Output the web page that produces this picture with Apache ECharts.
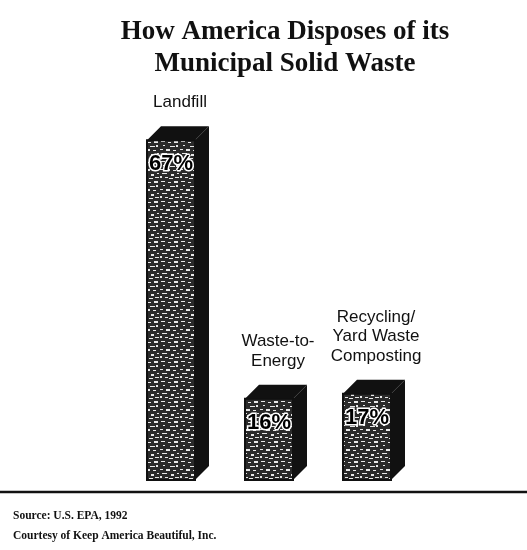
<!DOCTYPE html>
<html>
<head>
<meta charset="utf-8">
<script src="https://cdn.jsdelivr.net/npm/echarts@6/dist/echarts.min.js"></script>
<style>
html,body{margin:0;padding:0;background:#fff;}
#chart{width:527px;height:550px;}
</style>
</head>
<body>
<div id="chart"></div>
<script>
const titleLines = ['How America Disposes of its', 'Municipal Solid Waste'];
const categories = ['Landfill', 'Waste-to-\nEnergy', 'Recycling/\nYard Waste\nComposting'];
const values = [67, 16, 17];
const percentLabels = ['67%', '16%', '17%'];
const sourceLines = ['Source: U.S. EPA, 1992', 'Courtesy of Keep America Beautiful, Inc.'];

// stipple texture for the bar fronts (styling only)
function makePattern() {
  const c = document.createElement('canvas');
  c.width = 20; c.height = 20;
  const g = c.getContext('2d');
  g.fillStyle = '#2a2a2a';
  g.fillRect(0, 0, 20, 20);
  g.fillStyle = '#e8e8e8';
  const spots = [[1,1,4,1],[8,2,3,1],[14,1,4,2],[3,5,2,1],[10,6,5,1],[16,5,2,2],
                 [0,9,3,1],[6,9,4,2],[13,10,3,1],[2,13,5,1],[11,14,3,2],[17,13,2,1],
                 [5,17,3,1],[9,18,4,1],[15,17,4,1],[0,16,2,2]];
  spots.forEach(s => g.fillRect(s[0], s[1], s[2], s[3]));
  return c;
}
const pattern = makePattern();

const chart = echarts.init(document.getElementById('chart'));
chart.setOption({
  backgroundColor: '#fff',
  animation: false,
  title: {
    text: titleLines.join('\n'),
    left: 280, top: 11, textAlign: 'center',
    textStyle: {
      fontFamily: 'Liberation Serif', fontWeight: 'bold', fontSize: 27,
      lineHeight: 32, color: '#111'
    }
  },
  grid: { left: 122, right: 111, top: 125, bottom: 70 },
  xAxis: {
    type: 'category', data: categories, show: false
  },
  yAxis: { type: 'value', min: 0, max: 70, show: false },
  graphic: [
    { type: 'line', shape: { x1: 0, y1: 492, x2: 527, y2: 492 },
      style: { stroke: '#111', lineWidth: 2.5 } },
    { type: 'text', left: 13, top: 506,
      style: { text: sourceLines.join('\n'), fontFamily: 'Liberation Serif',
               fontWeight: 'bold', fontSize: 11.5, lineHeight: 20, fill: '#111' } }
  ],
  series: [{
    type: 'custom',
    data: values.map((v, i) => [i, v]),
    renderItem: function (params, api) {
      const i = api.value(0), v = api.value(1);
      const top = api.coord([i, v]);
      const base = api.coord([i, 0]);
      const bw = 48, d = 14;
      const cx = top[0];
      const x0 = cx - bw / 2, x1 = cx + bw / 2;
      const ty = top[1], by = base[1];
      return {
        type: 'group',
        children: [
          { type: 'rect', shape: { x: x0, y: ty, width: bw, height: by - ty },
            style: { fill: { image: pattern, repeat: 'repeat' }, stroke: '#111', lineWidth: 2 } },
          { type: 'polygon', shape: { points: [[x0, ty], [x0 + d, ty - d], [x1 + d, ty - d], [x1, ty]] },
            style: { fill: '#111' } },
          { type: 'polygon', shape: { points: [[x1, ty], [x1 + d, ty - d], [x1 + d, by - d], [x1, by]] },
            style: { fill: '#111' } },
          { type: 'text', x: cx, y: ty + 24,
            style: { text: percentLabels[i], fontFamily: 'Liberation Sans Narrow, Liberation Sans',
                     fontWeight: 'bold', fontSize: 22, fill: '#000', align: 'center',
                     verticalAlign: 'middle', stroke: '#fff', lineWidth: 3 } },
          { type: 'text', x: cx + 9, y: ty - d - 14,
            style: { text: categories[i], fontFamily: 'Liberation Sans',
                     fontSize: 17, lineHeight: 19.5, fill: '#111', align: 'center',
                     verticalAlign: 'bottom' } }
        ]
      };
    }
  }]
});
</script>
</body>
</html>
